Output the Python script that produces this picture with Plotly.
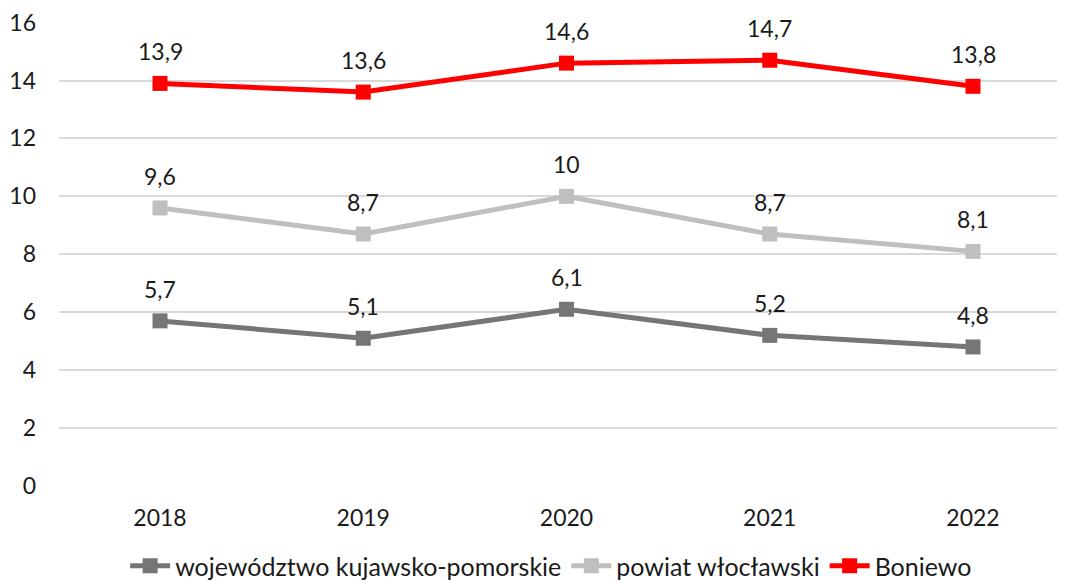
import plotly.graph_objects as go

years = ["2018", "2019", "2020", "2021", "2022"]
kujawsko = [5.7, 5.1, 6.1, 5.2, 4.8]
powiat = [9.6, 8.7, 10.0, 8.7, 8.1]
boniewo = [13.9, 13.6, 14.6, 14.7, 13.8]
labels_kuj = ["5,7", "5,1", "6,1", "5,2", "4,8"]
labels_pow = ["9,6", "8,7", "10", "8,7", "8,1"]
labels_bon = ["13,9", "13,6", "14,6", "14,7", "13,8"]
y_ticks = [0, 2, 4, 6, 8, 10, 12, 14, 16]

FONT = "Lato, 'Open Sans', sans-serif"
FS = 23
series = [
    ("województwo kujawsko-pomorskie", kujawsko, labels_kuj, "#767676"),
    ("powiat włocławski", powiat, labels_pow, "#BFBFBF"),
    ("Boniewo", boniewo, labels_bon, "#FF0000"),
]

fig = go.Figure()
annotations = []
for name, vals, labs, col in series:
    fig.add_trace(go.Scatter(
        x=list(range(len(years))), y=vals, name=name, mode="lines+markers",
        line=dict(color=col, width=5),
        marker=dict(symbol="square", size=15, color=col),
        cliponaxis=False,
    ))
    for i, (v, t) in enumerate(zip(vals, labs)):
        annotations.append(dict(x=i, y=v, text=t, showarrow=False, yshift=32,
                                font=dict(family=FONT, size=FS, color="#1a1a1a")))

fig.update_layout(
    width=1065, height=581,
    margin=dict(l=51, r=0, t=14, b=103, autoexpand=False),
    paper_bgcolor="white", plot_bgcolor="white",
    font=dict(family=FONT, size=FS, color="#1a1a1a"),
    xaxis=dict(range=[-0.497, 4.492], tickmode="array",
               tickvals=list(range(len(years))), ticktext=years,
               showgrid=False, zeroline=False, showline=False, ticks="",
               ticklabelstandoff=16, automargin=False),
    yaxis=dict(range=[-0.001, 16.02], tickmode="array", tickvals=y_ticks,
               showgrid=True, gridcolor="#D9D9D9", gridwidth=1.5, zeroline=False,
               showline=False, ticks="", ticklabelstandoff=22, automargin=False,
               ticklabeloverflow="allow"),
    showlegend=True,
    legend=dict(orientation="h", x=0.51, xanchor="center", xref="container",
                y=0.0, yanchor="bottom", yref="container",
                font=dict(family=FONT, size=25),
                itemwidth=40, tracegroupgap=0, bgcolor="rgba(0,0,0,0)"),
    annotations=annotations,
)
fig.write_html("out.html")
